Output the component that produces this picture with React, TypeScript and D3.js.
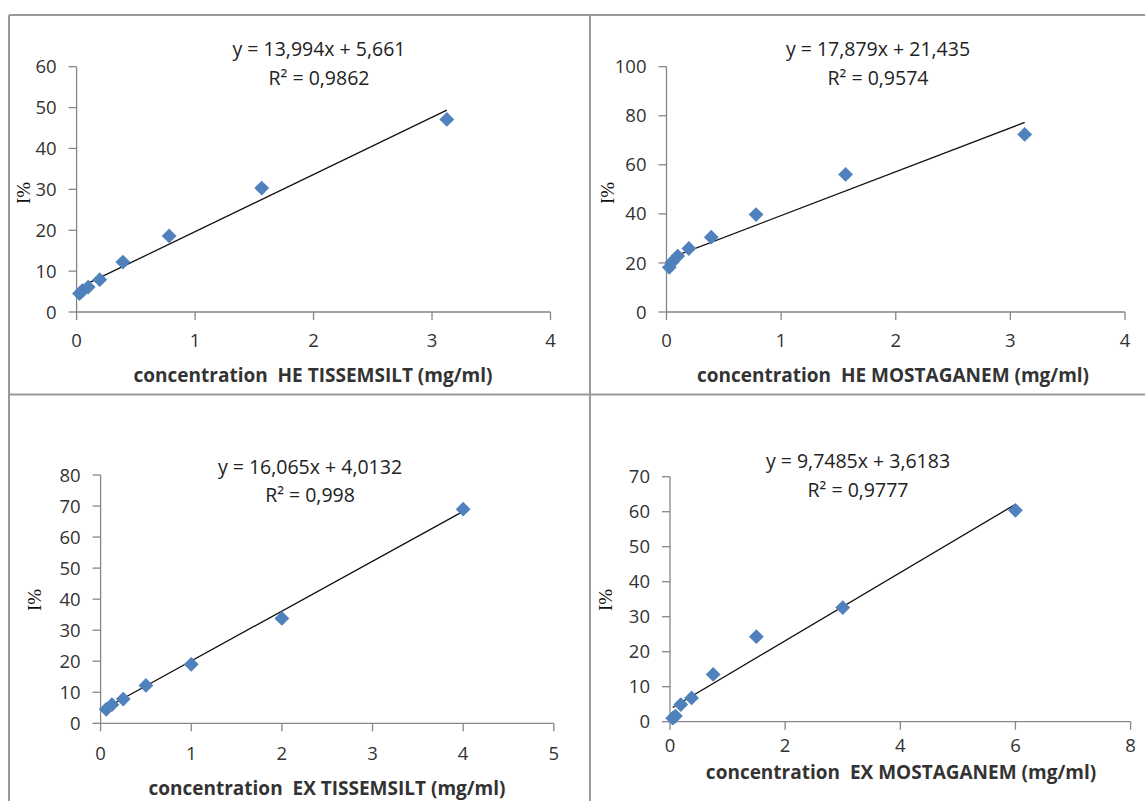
import React from "react";
import * as d3 from "d3";

// ---------- data ----------
const heTissX = [0.0244, 0.0488, 0.0977, 0.1953, 0.3906, 0.78125, 1.5625, 3.125];
const heTissY = [4.5, 5.2, 6.1, 7.9, 12.2, 18.6, 30.3, 47.1];
const heMostX = [0.0244, 0.0488, 0.0977, 0.1953, 0.3906, 0.78125, 1.5625, 3.125];
const heMostY = [18.2, 20.3, 22.8, 25.9, 30.5, 39.7, 56.1, 72.4];
const exTissX = [0.0625, 0.125, 0.25, 0.5, 1, 2, 4];
const exTissY = [4.5, 6.0, 7.8, 12.2, 19.0, 33.8, 69.0];
const exMostX = [0.0469, 0.09375, 0.1875, 0.375, 0.75, 1.5, 3, 6];
const exMostY = [1.0, 1.6, 4.9, 6.8, 13.5, 24.3, 32.6, 60.4];

const heTissFit = { slope: 13.994, intercept: 5.661 };
const heMostFit = { slope: 17.879, intercept: 21.435 };
const exTissFit = { slope: 16.065, intercept: 4.0132 };
const exMostFit = { slope: 9.7485, intercept: 3.6183 };

const heTissEq = ["y = 13,994x + 5,661", "R² = 0,9862"];
const heMostEq = ["y = 17,879x + 21,435", "R² = 0,9574"];
const exTissEq = ["y = 16,065x + 4,0132", "R² = 0,998"];
const exMostEq = ["y = 9,7485x + 3,6183", "R² = 0,9777"];

const heTissTitle = "concentration  HE TISSEMSILT (mg/ml)";
const heMostTitle = "concentration  HE MOSTAGANEM (mg/ml)";
const exTissTitle = "concentration  EX TISSEMSILT (mg/ml)";
const exMostTitle = "concentration  EX MOSTAGANEM (mg/ml)";

const heTissXTicks = [0, 1, 2, 3, 4];
const heTissYTicks = [0, 10, 20, 30, 40, 50, 60];
const heMostXTicks = [0, 1, 2, 3, 4];
const heMostYTicks = [0, 20, 40, 60, 80, 100];
const exTissXTicks = [0, 1, 2, 3, 4, 5];
const exTissYTicks = [0, 10, 20, 30, 40, 50, 60, 70, 80];
const exMostXTicks = [0, 2, 4, 6, 8];
const exMostYTicks = [0, 10, 20, 30, 40, 50, 60, 70];

// ---------- layout ----------
type Panel = {
  xs: number[]; ys: number[]; fit: { slope: number; intercept: number };
  eq: string[]; title: string; xTicks: number[]; yTicks: number[];
  x0: number; x1: number; y0: number; y1: number;
  eqX: number; eqY: number; eqY2: number;
  titleX: number; titleY: number; xLabY: number;
  iX: number; iY: number;
};

const panels: Panel[] = [
  {
    xs: heTissX, ys: heTissY, fit: heTissFit, eq: heTissEq, title: heTissTitle,
    xTicks: heTissXTicks, yTicks: heTissYTicks,
    x0: 76.6, x1: 550.5, y0: 312, y1: 66.7,
    eqX: 319, eqY: 56, eqY2: 85, titleX: 313, titleY: 382, xLabY: 347, iX: 24, iY: 193,
  },
  {
    xs: heMostX, ys: heMostY, fit: heMostFit, eq: heMostEq, title: heMostTitle,
    xTicks: heMostXTicks, yTicks: heMostYTicks,
    x0: 666.5, x1: 1125, y0: 312, y1: 66.7,
    eqX: 878, eqY: 56, eqY2: 85, titleX: 893, titleY: 382, xLabY: 347, iX: 608, iY: 193,
  },
  {
    xs: exTissX, ys: exTissY, fit: exTissFit, eq: exTissEq, title: exTissTitle,
    xTicks: exTissXTicks, yTicks: exTissYTicks,
    x0: 100.6, x1: 553.8, y0: 723.3, y1: 475,
    eqX: 310, eqY: 474, eqY2: 502, titleX: 327, titleY: 795, xLabY: 760, iX: 34.5, iY: 600,
  },
  {
    xs: exMostX, ys: exMostY, fit: exMostFit, eq: exMostEq, title: exMostTitle,
    xTicks: exMostXTicks, yTicks: exMostYTicks,
    x0: 670, x1: 1130.6, y0: 721.7, y1: 476.7,
    eqX: 858, eqY: 468, eqY2: 497, titleX: 901, titleY: 779, xLabY: 752, iX: 606, iY: 600,
  },
];

const AXIS = "#868686";
const BLUE = "#4F81BD";
const FONT = "'Open Sans', Lato, sans-serif";
const TICK_SIZE = 18.5;

function ChartPanel({ p }: { p: Panel }) {
  const x = d3.scaleLinear().domain([p.xTicks[0], p.xTicks[p.xTicks.length - 1]]).range([p.x0, p.x1]);
  const y = d3.scaleLinear().domain([p.yTicks[0], p.yTicks[p.yTicks.length - 1]]).range([p.y0, p.y1]);
  const xmin = d3.min(p.xs) as number;
  const xmax = d3.max(p.xs) as number;
  const line = d3.line<number>().x((d) => x(d)).y((d) => y(p.fit.slope * d + p.fit.intercept));
  const diamond = d3.symbol().type(d3.symbolDiamond2).size(140)() as string;
  return (
    <g>
      {/* axes */}
      <line x1={x.range()[0]} x2={x.range()[1]} y1={p.y0} y2={p.y0} stroke={AXIS} strokeWidth={1.3} />
      <line x1={p.x0} x2={p.x0} y1={p.y0} y2={p.y1} stroke={AXIS} strokeWidth={1.3} />
      {p.xTicks.map((t) => (
        <g key={"xt" + t}>
          <line x1={x(t)} x2={x(t)} y1={p.y0} y2={p.y0 + 8} stroke={AXIS} strokeWidth={1.3} />
          <text x={x(t)} y={p.xLabY} textAnchor="middle" fontFamily={FONT} fontSize={TICK_SIZE} fill="#333">{t}</text>
        </g>
      ))}
      {p.yTicks.map((t) => (
        <g key={"yt" + t}>
          <line x1={p.x0 - 8} x2={p.x0} y1={y(t)} y2={y(t)} stroke={AXIS} strokeWidth={1.3} />
          <text x={p.x0 - 20} y={y(t) + 6.6} textAnchor="end" fontFamily={FONT} fontSize={TICK_SIZE} fill="#333">{t}</text>
        </g>
      ))}
      {/* trend line */}
      <path d={line([xmin, xmax]) as string} stroke="#111" strokeWidth={1.3} fill="none" />
      {/* points */}
      {p.xs.map((xv, i) => (
        <path key={"pt" + i} d={diamond} transform={`translate(${x(xv)},${y(p.ys[i])})`} fill={BLUE} />
      ))}
      {/* equation */}
      <text x={p.eqX} y={p.eqY} textAnchor="middle" fontFamily={FONT} fontSize={19.5} fill="#222">{p.eq[0]}</text>
      <text x={p.eqX} y={p.eqY2} textAnchor="middle" fontFamily={FONT} fontSize={19.5} fill="#222">{p.eq[1]}</text>
      {/* axis titles */}
      <text x={p.titleX} y={p.titleY} textAnchor="middle" fontFamily={FONT} fontSize={19} fontWeight="bold" fill="#333" style={{ whiteSpace: "pre" }}>{p.title}</text>
      <text transform={`translate(${p.iX + 6},${p.iY}) rotate(-90)`} textAnchor="middle" fontFamily="'Liberation Serif', 'Times New Roman', serif" fontSize={19} fill="#111">I%</text>
    </g>
  );
}

export default function App() {
  return (
    <svg width={1145} height={801} style={{ position: "absolute", left: 0, top: 0, background: "#fff" }}>
      <rect x={0} y={0} width={1145} height={801} fill="#fff" />
      {/* panel borders */}
      <line x1={9} x2={1145} y1={15} y2={15} stroke="#9a9a9a" strokeWidth={2} />
      <line x1={9} x2={9} y1={15} y2={801} stroke="#9a9a9a" strokeWidth={2} />
      <line x1={590} x2={590} y1={15} y2={801} stroke="#9a9a9a" strokeWidth={2} />
      <line x1={9} x2={1145} y1={394.5} y2={394.5} stroke="#9a9a9a" strokeWidth={2} />
      {panels.map((p, i) => (
        <ChartPanel key={i} p={p} />
      ))}
    </svg>
  );
}
